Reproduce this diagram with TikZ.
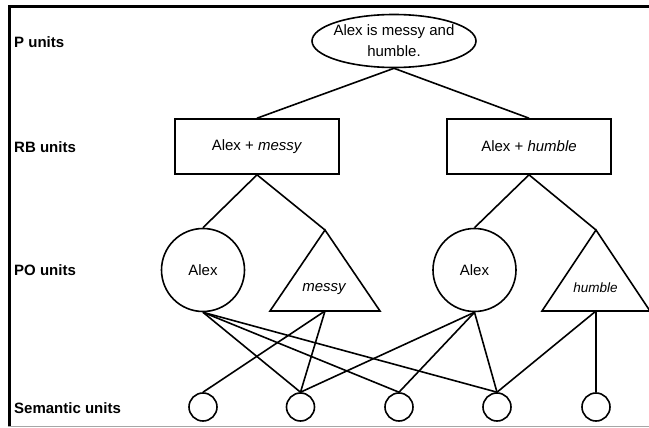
\documentclass[tikz,border=0pt]{standalone}
\usepackage{fontspec}
\setmainfont{Liberation Sans}
\usetikzlibrary{shapes.geometric}
\tikzset{
  unit/.style={draw, line width=1.6pt},
  lbl/.style={anchor=west, font=\fontsize{15}{18}\selectfont\bfseries, inner sep=0pt},
  txt/.style={font=\fontsize{15}{21}\selectfont},
  rbbox/.style={unit, rectangle, minimum width=164pt, minimum height=55pt, inner sep=0pt, txt},
  pocirc/.style={unit, circle, minimum size=83pt, inner sep=0pt, txt},
  semcirc/.style={unit, circle, minimum size=28pt, inner sep=0pt},
  link/.style={line width=1.6pt},
}
\begin{document}
\begin{tikzpicture}[x=1pt,y=-1pt]
\useasboundingbox (0,0) rectangle (649,428);
% frame
\draw[line width=3pt] (9,426) -- (9,6.5) -- (652,6.5);
\draw[line width=1.2pt, black!35] (7.5,426.5) -- (652,426.5);

% row labels
\node[lbl] (lp) at (14,42) {P units};
\node[lbl] (lrb) at (14,147) {RB units};
\node[lbl] (lpo) at (14,270) {PO units};
\node[lbl] (lsem) at (14,408) {Semantic units};

% P unit
\node[unit, ellipse, minimum width=164pt, minimum height=53pt, inner xsep=-14pt, inner ysep=-14pt, align=center, txt] (p) at (394,41) {Alex is messy and\\humble.};

% RB units
\node[rbbox] (rb1) at (257,146.5) {Alex + \textit{messy}};
\node[rbbox] (rb2) at (529,146.5) {Alex + \textit{humble}};

% PO units
\node[pocirc] (c1) at (203,270) {Alex};
\node[pocirc] (c2) at (474.5,270) {Alex};

\coordinate (mA) at (325,230);
\coordinate (mB) at (325,311);
\draw[unit, line join=miter] (mA) -- (270,311) -- (380,311) -- cycle;
\node[txt, font=\fontsize{15}{18}\selectfont\itshape] (mT) at (324,289) {messy};

\coordinate (hA) at (596,230);
\coordinate (hB) at (596,311);
\draw[unit, line join=miter] (hA) -- (542,311) -- (650,311) -- cycle;
\node[font=\fontsize{13.5}{16}\selectfont\itshape] (hT) at (595.5,288) {humble};

% semantic units
\node[semcirc] (s1) at (203,407) {};
\node[semcirc] (s2) at (300.5,407) {};
\node[semcirc] (s3) at (399,407) {};
\node[semcirc] (s4) at (497,407) {};
\node[semcirc] (s5) at (596,407) {};

% connections
\draw[link] (p.south) -- (rb1.north);
\draw[link] (p.south) -- (rb2.north);
\draw[link] (rb1.south) -- (c1.north);
\draw[link] (rb1.south) -- (mA);
\draw[link] (rb2.south) -- (c2.north);
\draw[link] (rb2.south) -- (hA);

\draw[link] (c1.south) -- (s2.north);
\draw[link] (c1.south) -- (s3.north);
\draw[link] (c1.south) -- (s4.north);
\draw[link] (mB) -- (s1.north);
\draw[link] (mB) -- (s2.north);
\draw[link] (c2.south) -- (s2.north);
\draw[link] (c2.south) -- (s3.north);
\draw[link] (c2.south) -- (s4.north);
\draw[link] (hB) -- (s4.north);
\draw[link] (hB) -- (s5.north);
\end{tikzpicture}
\end{document}
